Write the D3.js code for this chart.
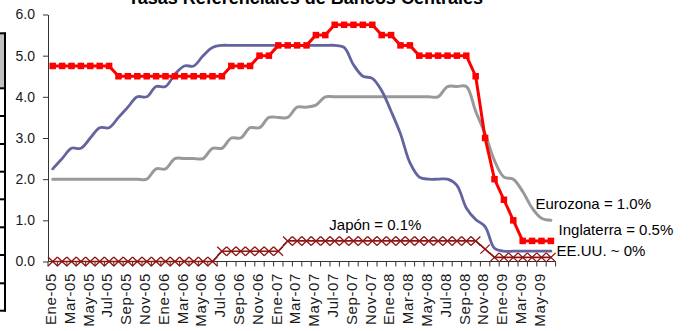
<!DOCTYPE html>
<html>
<head>
<meta charset="utf-8">
<script src="https://cdn.jsdelivr.net/npm/d3@7"></script>
<style>
  body { margin: 0; background: #fff; }
  svg { display: block; font-family: "Liberation Sans", Arial, Helvetica, sans-serif; }
</style>
</head>
<body>
<svg id="chart" width="691" height="331"></svg>
<script>
// Monthly categories, January 2005 – June 2009
const meses = [
  "Ene-05","Feb-05","Mar-05","Abr-05","May-05","Jun-05","Jul-05","Ago-05","Sep-05","Oct-05","Nov-05","Dic-05",
  "Ene-06","Feb-06","Mar-06","Abr-06","May-06","Jun-06","Jul-06","Ago-06","Sep-06","Oct-06","Nov-06","Dic-06",
  "Ene-07","Feb-07","Mar-07","Abr-07","May-07","Jun-07","Jul-07","Ago-07","Sep-07","Oct-07","Nov-07","Dic-07",
  "Ene-08","Feb-08","Mar-08","Abr-08","May-08","Jun-08","Jul-08","Ago-08","Sep-08","Oct-08","Nov-08","Dic-08",
  "Ene-09","Feb-09","Mar-09","Abr-09","May-09","Jun-09"
];

// Policy rates (%), one value per month
const eurozona = [
  2.0, 2.0, 2.0, 2.0, 2.0, 2.0, 2.0, 2.0, 2.0, 2.0, 2.0, 2.25,
  2.25, 2.5, 2.5, 2.5, 2.5, 2.75, 2.75, 3.0, 3.0, 3.25, 3.25, 3.5,
  3.5, 3.5, 3.75, 3.75, 3.8, 4.0, 4.0, 4.0, 4.0, 4.0, 4.0, 4.0,
  4.0, 4.0, 4.0, 4.0, 4.0, 4.0, 4.25, 4.25, 4.25, 3.65, 3.1, 2.45,
  2.05, 2.0, 1.7, 1.3, 1.05, 1.0
];
const eeuu = [
  2.25, 2.5, 2.75, 2.75, 3.0, 3.25, 3.25, 3.5, 3.75, 4.0, 4.0, 4.25,
  4.25, 4.55, 4.75, 4.75, 5.0, 5.2, 5.25, 5.25, 5.25, 5.25, 5.25, 5.25,
  5.25, 5.25, 5.25, 5.25, 5.25, 5.25, 5.25, 5.2, 4.78, 4.5, 4.45, 4.15,
  3.65, 3.1, 2.4, 2.05, 2.0, 2.0, 2.0, 1.85, 1.3, 1.02, 0.85, 0.32,
  0.25, 0.25, 0.25, 0.25, 0.25, 0.25
];
const inglaterra = [
  4.75, 4.75, 4.75, 4.75, 4.75, 4.75, 4.75, 4.5, 4.5, 4.5, 4.5, 4.5,
  4.5, 4.5, 4.5, 4.5, 4.5, 4.5, 4.5, 4.75, 4.75, 4.75, 5.0, 5.0,
  5.25, 5.25, 5.25, 5.25, 5.5, 5.5, 5.75, 5.75, 5.75, 5.75, 5.75, 5.5,
  5.5, 5.25, 5.25, 5.0, 5.0, 5.0, 5.0, 5.0, 5.0, 4.5, 3.0, 2.0,
  1.5, 1.0, 0.5, 0.5, 0.5, 0.5
];
const japon = [
  0, 0, 0, 0, 0, 0, 0, 0, 0, 0, 0, 0,
  0, 0, 0, 0, 0, 0, 0.25, 0.25, 0.25, 0.25, 0.25, 0.25,
  0.25, 0.5, 0.5, 0.5, 0.5, 0.5, 0.5, 0.5, 0.5, 0.5, 0.5, 0.5,
  0.5, 0.5, 0.5, 0.5, 0.5, 0.5, 0.5, 0.5, 0.5, 0.5, 0.3, 0.1,
  0.1, 0.1, 0.1, 0.1, 0.1, 0.1
];

const yTicks = [0, 1, 2, 3, 4, 5, 6];
const titulo = "Tasas Referenciales de Bancos Centrales";

const svg = d3.select("#chart");
const fmt1 = d3.format(".1f");

const x = d3.scaleBand().domain(meses).range([48, 555.6]).padding(0);
const y = d3.scaleLinear().domain([0, 6]).range([261.5, 14.5]);
const cx = i => x(meses[i]) + x.bandwidth() / 2;
const last = arr => arr[arr.length - 1];

// Title (runs off the top edge)
svg.append("text")
  .attr("x", 305.5).attr("y", 4)
  .attr("text-anchor", "middle")
  .attr("font-size", 18).attr("font-weight", "bold")
  .attr("fill", "#000")
  .text(titulo);

// Edge of the neighbouring table on the left
const tabla = svg.append("g");
tabla.append("rect").attr("x", 0).attr("y", 34).attr("width", 4).attr("height", 54).attr("fill", "#c0c0c0");
tabla.append("line").attr("x1", 5).attr("x2", 5).attr("y1", 32.5).attr("y2", 311.5)
  .attr("stroke", "#000").attr("stroke-width", 2);
[33.3, 88.3, 116, 144, 171.7, 199.3, 227.3, 255, 283.3, 310.7].forEach(yy => {
  tabla.append("line").attr("x1", 0).attr("x2", 6).attr("y1", yy).attr("y2", yy)
    .attr("stroke", "#000").attr("stroke-width", 2);
});

// Y axis
const yAxis = svg.append("g")
  .attr("transform", "translate(48,0)")
  .call(d3.axisLeft(y).tickValues(yTicks).tickFormat(fmt1).tickSize(5).tickSizeOuter(0).tickPadding(8));
yAxis.select(".domain").attr("stroke", "#333");
yAxis.selectAll(".tick line").attr("stroke", "#333");
yAxis.selectAll(".tick text").attr("font-size", 14).attr("fill", "#1a1a1a")
  .attr("font-family", "Liberation Sans, Arial, sans-serif");

// X axis: baseline, ticks at category boundaries, labels every two months
const xAxis = svg.append("g").attr("transform", `translate(0,${y(0)})`);
xAxis.append("line")
  .attr("x1", x.range()[0]).attr("x2", x.range()[1])
  .attr("stroke", "#333");
const bordes = meses.map(m => x(m)).concat([x.range()[1]]);
xAxis.selectAll("line.tick").data(bordes).join("line")
  .attr("class", "tick")
  .attr("x1", d => d).attr("x2", d => d)
  .attr("y1", 0).attr("y2", 5)
  .attr("stroke", "#333");
xAxis.selectAll("text").data(meses.map((m, i) => ({ m, i })).filter(d => d.i % 2 === 0)).join("text")
  .attr("transform", d => `translate(${cx(d.i) - 2},${y(0) + 11.5 - y(0)}) rotate(-90)`)
  .attr("dy", "0.35em")
  .attr("text-anchor", "end")
  .attr("font-size", 15)
  .attr("letter-spacing", 0.6)
  .attr("fill", "#1a1a1a")
  .text(d => d.m);

// Series lines
const linea = curve => d3.line().x((d, i) => cx(i)).y(d => y(d)).curve(curve);
const series = svg.append("g").attr("fill", "none").attr("stroke-linejoin", "round").attr("stroke-linecap", "round");

series.append("path").datum(eurozona)
  .attr("d", linea(d3.curveCatmullRom))
  .attr("stroke", "#999999").attr("stroke-width", 3);

series.append("path").datum(eeuu)
  .attr("d", linea(d3.curveCatmullRom))
  .attr("stroke", "#63639f").attr("stroke-width", 2.8);

series.append("path").datum(inglaterra)
  .attr("d", linea(d3.curveLinear))
  .attr("stroke", "#ff0000").attr("stroke-width", 3);

svg.append("g").selectAll("rect").data(inglaterra).join("rect")
  .attr("x", (d, i) => cx(i) - 3.25).attr("y", d => y(d) - 3.25)
  .attr("width", 6.5).attr("height", 6.5)
  .attr("fill", "#ff0000");

series.append("path").datum(japon)
  .attr("d", linea(d3.curveLinear))
  .attr("stroke", "#8f1414").attr("stroke-width", 1.6);

svg.append("g").selectAll("path").data(japon).join("path")
  .attr("transform", (d, i) => `translate(${cx(i)},${y(d)})`)
  .attr("d", "M-4.7,-4.5L4.7,4.5M-4.7,4.5L4.7,-4.5")
  .attr("fill", "none")
  .attr("stroke", "#8f1414").attr("stroke-width", 1.3);

// End-of-series annotations
const n = meses.length - 1;
const notas = [
  { t: `Eurozona = ${fmt1(last(eurozona))}%`, x: cx(n - 1) - 6, y: y(last(eurozona)) - 11 },
  { t: `Inglaterra = ${fmt1(last(inglaterra))}%`, x: x.range()[1] + 3, y: y(last(inglaterra)) - 6 },
  { t: "EE.UU. ~ 0%", x: x.range()[1] + 1, y: y(last(eeuu)) + 4.5 },
  { t: `Japón = ${fmt1(last(japon))}%`, x: cx(29) + 4, y: y(japon[29]) - 10.5 }
];
svg.append("g").selectAll("text").data(notas).join("text")
  .attr("x", d => d.x).attr("y", d => d.y)
  .attr("font-size", 15).attr("fill", "#000")
  .text(d => d.t);
</script>
</body>
</html>
